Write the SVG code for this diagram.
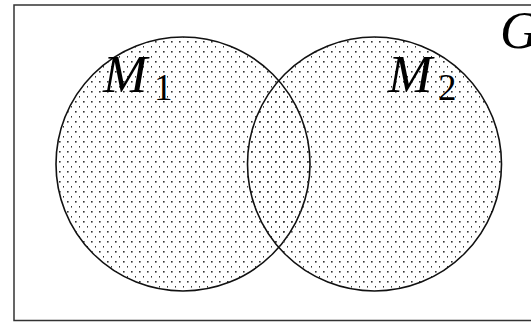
<svg xmlns="http://www.w3.org/2000/svg" width="531" height="322" viewBox="0 0 531 322">
<defs>
<pattern id="dots" patternUnits="userSpaceOnUse" x="0" y="0" width="8" height="10">
<rect x="3" y="1" width="1.6" height="1.6" fill="#333"/>
<rect x="7" y="6" width="1.6" height="1.6" fill="#333"/>
</pattern>
</defs>
<style>
.set{fill:url(#dots);stroke:#111;stroke-width:1.6}
.lbl{font-family:"Liberation Serif","DejaVu Serif",serif;font-style:italic;fill:#000}
.sub{font-family:"Liberation Serif","DejaVu Serif",serif;fill:#000}
</style>
<rect width="531" height="322" fill="#fff"/>
<g id="universe">
<rect x="14" y="5" width="530" height="315.5" fill="none" stroke="#333" stroke-width="1.5"/>
<text class="lbl" x="500" y="48" font-size="53">G</text>
</g>
<g id="M1">
<circle class="set" cx="183" cy="164" r="127"/>
</g>
<g id="M2">
<circle class="set" cx="374.5" cy="164" r="127"/>
</g>
<g id="M1-label">
<text class="lbl" x="103" y="92" font-size="53">M</text>
<text class="sub" x="154" y="100" font-size="37">1</text>
</g>
<g id="M2-label">
<text class="lbl" x="388" y="92" font-size="53">M</text>
<text class="sub" x="438" y="100" font-size="37">2</text>
</g>
<g id="connectors"></g>
</svg>
